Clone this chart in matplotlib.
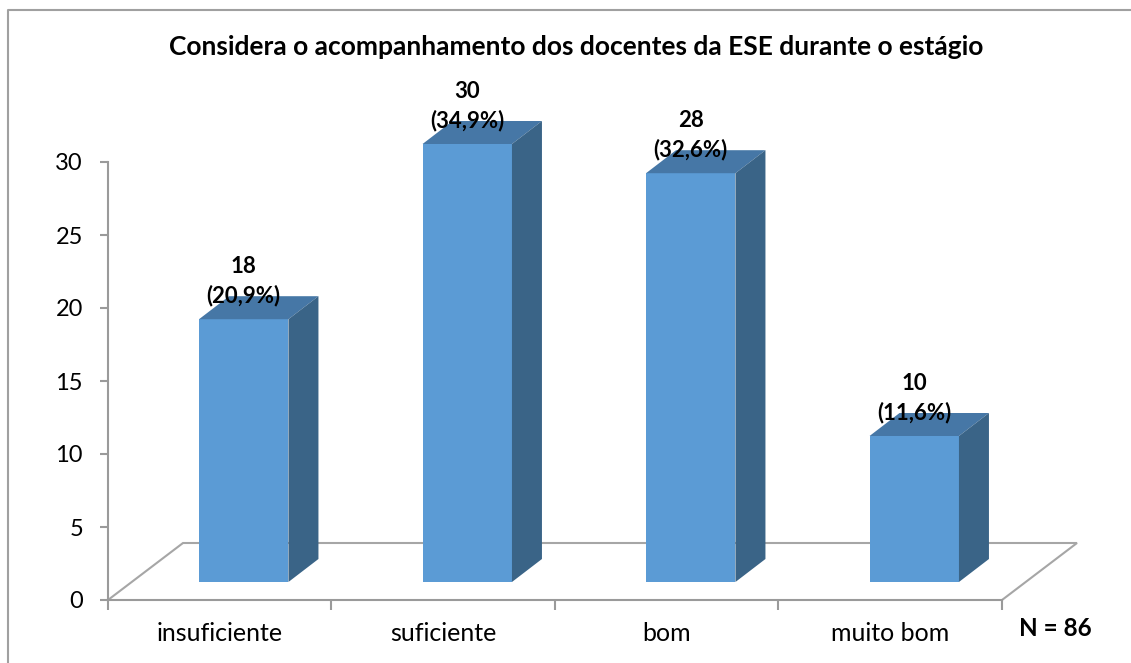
import matplotlib
matplotlib.use('Agg')
import matplotlib.pyplot as plt
from matplotlib.patches import Polygon
from matplotlib.lines import Line2D

categories = ['insuficiente', 'suficiente', 'bom', 'muito bom']
counts = [18, 30, 28, 10]
percents = ['20,9%', '34,9%', '32,6%', '11,6%']
n_total = 86
y_ticks = [0, 5, 10, 15, 20, 25, 30]
title = 'Considera o acompanhamento dos docentes da ESE durante o estágio'

plt.rcParams['font.family'] = ['Lato', 'DejaVu Sans']

front_c = '#5B9BD5'
top_c = '#4677A6'
side_c = '#3A6487'
grey = '#9a9a9a'

fig = plt.figure(figsize=(11.31, 6.63), dpi=100)
ax = fig.add_axes([108 / 1131, 63 / 663, 894 / 1131, 438 / 663])
ax.set_xlim(-0.5, len(categories) - 0.5)
ax.set_ylim(0, 30)

# pixel -> data unit conversion for the fake 3d depth
px_x = ax.bbox.width / len(categories)
px_y = ax.bbox.height / 30
fx, fy = 24 / px_x, 18 / px_y      # front face of bars sits a bit into the floor
dx, dy = 30 / px_x, 23 / px_y      # bar depth
gx, gy = 75 / px_x, 57 / px_y      # floor depth
w = 0.40

# floor outline
x0, x1 = -0.5, len(categories) - 0.5
ax.plot([x0, x0 + gx, x1 + gx, x1], [0, gy, gy, 0], color='#a6a6a6', lw=1.5,
        clip_on=False, zorder=1, solid_joinstyle='miter')

for i, (v, p) in enumerate(zip(counts, percents)):
    cx = i + fx
    b = cx - w / 2
    r = cx + w / 2
    ax.add_patch(Polygon([(b, fy), (r, fy), (r, v + fy), (b, v + fy)],
                         closed=True, fc=front_c, ec='none', zorder=3, clip_on=False))
    ax.add_patch(Polygon([(b, v + fy), (r, v + fy), (r + dx, v + fy + dy), (b + dx, v + fy + dy)],
                         closed=True, fc=top_c, ec='none', zorder=3, clip_on=False))
    ax.add_patch(Polygon([(r, fy), (r + dx, fy + dy), (r + dx, v + fy + dy), (r, v + fy)],
                         closed=True, fc=side_c, ec='none', zorder=3, clip_on=False))
    ax.annotate(f'{v}\n({p})', (cx, v + fy), xytext=(0, 9), textcoords='offset points',
                ha='center', va='bottom', fontsize=16, fontweight='bold',
                linespacing=1.45, zorder=5, annotation_clip=False)

ax.spines[['top', 'right']].set_visible(False)
ax.spines[['left', 'bottom']].set_color(grey)
ax.spines[['left', 'bottom']].set_linewidth(1.5)
ax.set_yticks(y_ticks)
ax.tick_params(axis='y', length=6, width=1.5, color=grey, labelsize=17, pad=12)
ax.set_xticks(range(len(categories)))
ax.set_xticklabels(categories)
ax.set_xticks([k - 0.5 for k in range(len(categories) + 1)], minor=True)
ax.tick_params(axis='x', which='major', length=0, labelsize=18, pad=16)
ax.tick_params(axis='x', which='minor', length=7, width=1.5, color=grey)

fig.text(576 / 1131, 1 - 47 / 663, title, ha='center', va='center',
         fontsize=19, fontweight='bold')
fig.text(1055 / 1131, 1 - 628 / 663, f'N = {n_total}', ha='center', va='center',
         fontsize=17.5, fontweight='bold')

# chart area border (only left and top edges are inside the picture)
fig.add_artist(Line2D([8 / 1131, 8 / 1131, 1.0], [0.0, 1 - 10 / 663, 1 - 10 / 663],
                      transform=fig.transFigure, color='#a0a0a0', lw=1.5))

fig.savefig('out.png', dpi=100)
